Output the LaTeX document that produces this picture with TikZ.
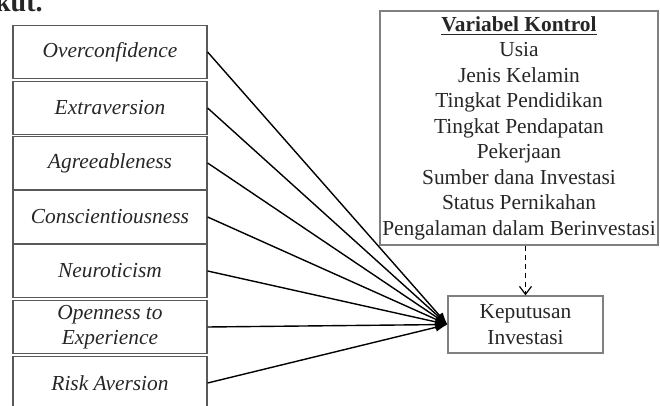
\documentclass[tikz,border=0pt]{standalone}
\usepackage{fontspec}
\setmainfont{Liberation Serif}
\usetikzlibrary{arrows.meta}

\begin{document}
\begin{tikzpicture}[
    x=0.5pt, y=-0.5pt,
    trait/.style={draw=black!65, line width=0.6pt, minimum width=97pt, minimum height=26.5pt,
                  inner sep=1pt, text=black!85, align=center,
                  font=\fontsize{10.7}{12.5}\selectfont\itshape},
    ctrl/.style={draw=black!50, line width=0.6pt, inner sep=1pt, text=black!85, align=center,
                 font=\fontsize{10.7}{12.75}\selectfont},
    link/.style={-{Latex[length=6pt,width=4.5pt]}, line width=0.7pt},
]
\useasboundingbox (0,0) rectangle (660,406);

\node[anchor=base east, inner sep=0pt, text=black!85, font=\fontsize{14}{16}\selectfont\bfseries] (prev) at (43,12) {kut.};

\node[trait] (over) at (110,52) {Overconfidence};
\node[trait] (extra) at (110,108) {Extraversion};
\node[trait] (agree) at (110,163) {Agreeableness};
\node[trait] (consc) at (110,217) {Conscientiousness};
\node[trait] (neuro) at (110,271) {Neuroticism};
\node[trait] (open) at (110,327) {Openness to\\Experience};
\node[trait] (risk) at (110,383) {Risk Aversion};

\node[ctrl, minimum width=139pt, minimum height=117pt] (kontrol) at (519,128)
    {\underline{\textbf{Variabel Kontrol}}\\Usia\\Jenis Kelamin\\Tingkat Pendidikan\\Tingkat Pendapatan\\
     Pekerjaan\\Sumber dana Investasi\\Status Pernikahan\\Pengalaman dalam Berinvestasi};
\node[ctrl, minimum width=77.5pt, minimum height=28.5pt] (kep) at (525.5,324.5) {Keputusan\\Investasi};

\draw[link] (over.east) -- (kep.west);
\draw[link] (extra.east) -- (kep.west);
\draw[link] (agree.east) -- (kep.west);
\draw[link] (consc.east) -- (kep.west);
\draw[link] (neuro.east) -- (kep.west);
\draw[link] (open.east) -- (kep.west);
\draw[link] (risk.east) -- (kep.west);

\draw[-{Straight Barb[length=4pt,width=6pt]}, line width=0.6pt, dash pattern=on 2.5pt off 2pt]
    (kep.north |- kontrol.south) -- (kep.north);
\end{tikzpicture}
\end{document}
